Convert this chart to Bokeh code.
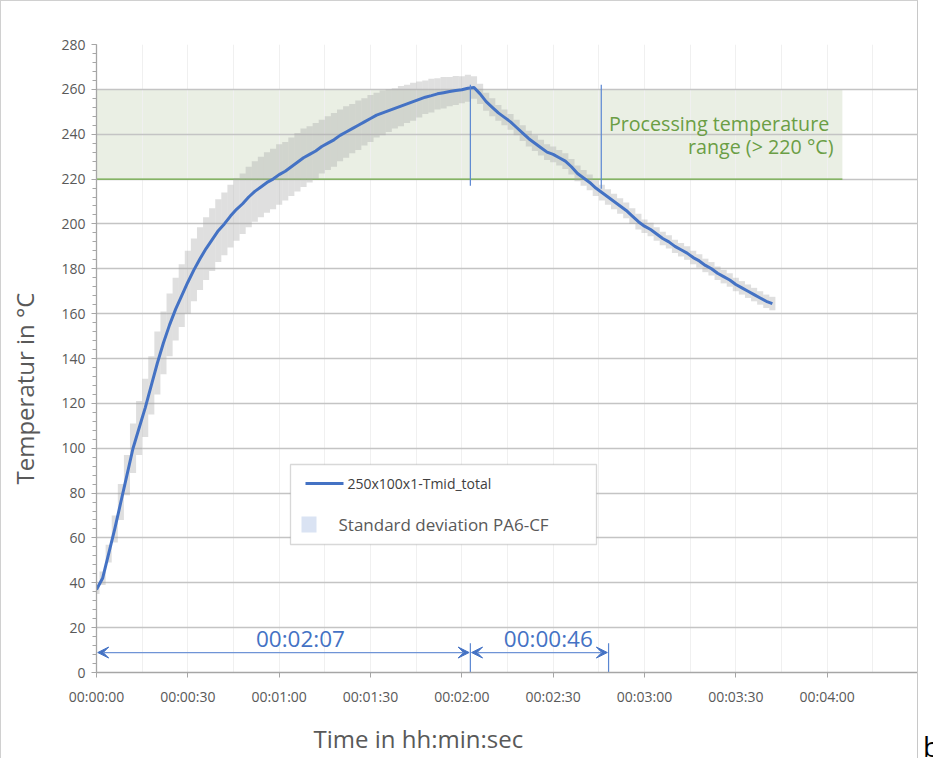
from bokeh.plotting import figure
from bokeh.layouts import row
from bokeh.models import (Range1d, SingleIntervalTicker, FixedTicker, CustomJSTickFormatter,
                          BoxAnnotation, Label, Arrow, VeeHead, Title, Div)
from bokeh.embed import file_html
from bokeh.resources import INLINE

# ---------------- data ----------------
T_SEC = [0, 2, 4, 6, 8, 10, 12, 14, 16, 18, 20, 22, 24, 26, 28, 30, 32, 34, 36, 38,
         40, 42, 44, 46, 48, 50, 52, 54, 56, 58, 60, 62, 64, 66, 68, 70, 72, 74, 76, 78,
         80, 82, 84, 86, 88, 90, 92, 94, 96, 98, 100, 102, 104, 106, 108, 110, 112, 114, 116, 118,
         120, 122, 124, 126, 128, 130, 132, 134, 136, 138, 140, 142, 144, 146, 148, 150, 152, 154, 156, 158,
         160, 162, 164, 166, 168, 170, 172, 174, 176, 178, 180, 182, 184, 186, 188, 190, 192, 194, 196, 198,
         200, 202, 204, 206, 208, 210, 212, 214, 216, 218, 220, 222]

TEMP = [37, 42, 53, 64, 76, 88, 100, 109, 118, 128, 138, 147, 155, 162, 168, 174, 179.5, 184.5, 189, 193,
        197, 200, 203.5, 206.5, 209, 212, 214.5, 216.5, 218.5, 220, 222, 223.5, 225.5, 227.5, 229.5, 231, 232.5, 234.5, 236, 237.5,
        239.5, 241, 242.5, 244, 245.5, 247, 248.5, 249.5, 250.5, 251.5, 252.5, 253.5, 254.5, 255.5, 256.5, 257.2, 258, 258.5, 259, 259.5,
        259.8, 260.5, 260.8, 258, 254.5, 252, 249.5, 247.5, 245.5, 243, 240.5, 238, 236, 234, 232, 231, 229.5, 228, 225.5, 222.5,
        220.5, 218.5, 216, 214, 212, 210, 208, 206, 203.5, 201, 199, 197.5, 195.5, 193.5, 192, 190, 188.5, 187, 185, 183.5,
        181.5, 180, 178, 176.5, 175, 173, 171.5, 170, 168.5, 167, 165.5, 164.5]

STD = [2, 3, 4, 6, 8, 9, 11, 12, 13, 13, 14, 14, 14, 14, 14, 14, 14, 14, 14, 14,
       14, 14, 14, 14, 13.5, 13.5, 13.5, 13.5, 13.5, 13.5, 13.5, 13, 13, 13, 13, 12.5, 12.5, 12, 12, 12,
       11.5, 11.5, 11, 11, 10.5, 10.5, 10, 10, 9.5, 9, 9, 8.5, 8.5, 8, 7.5, 7.5, 7, 7, 6.5, 6.5,
       6, 6, 5, 4.5, 4, 4, 3.5, 3.5, 3.5, 3.5, 3.5, 3.5, 3.5, 3.5, 3.5, 3.5, 3.5, 3.5, 3.5, 3.5,
       3.5, 3.5, 3.5, 3.5, 3.5, 3.5, 3.5, 3.5, 3.5, 3.5, 3, 3, 3, 3, 3, 3, 3, 3, 3, 3,
       3, 3, 3, 3, 3, 3, 3, 3, 3, 3, 3, 3]

X_TICKS = [0, 30, 60, 90, 120, 150, 180, 210, 240, 270]
X_GRID_STEP = 15
Y_TICK_STEP = 20

BAND_LOW, BAND_HIGH, BAND_END = 220, 260, 245          # processing temperature range
PEAK_T, COOL_T, COOL_T_BOTTOM = 122.8, 165.8, 168.2   # marker lines (s)
ARROW_Y = 8.9

LINE_LABEL = "250x100x1-Tmid_total"
STD_LABEL = "Standard deviation PA6-CF"
X_TITLE = "Time in hh:min:sec"
Y_TITLE = "Temperatur in °C"

BLUE = "#4472c4"
GRAY_TXT = "#595959"
GREEN = "#6b9e45"
FONT = "Open Sans"

# ---------------- figure ----------------
p = figure(frame_width=820, frame_height=627,
           min_border_left=95, min_border_right=1, min_border_top=43, min_border_bottom=87,
           x_range=Range1d(0, 270), y_range=Range1d(0, 280),
           output_backend="svg", toolbar_location=None)
p.styles = {"border-left": "1px solid #d0d0d0", "border-top": "1px solid #d0d0d0",
            "border-right": "1px solid #c8c8c8"}
p.outline_line_color = None
p.background_fill_color = "white"
p.border_fill_color = "white"

# axes
p.xaxis.ticker = FixedTicker(ticks=X_TICKS, minor_ticks=[])
p.xaxis.formatter = CustomJSTickFormatter(code="""
    const s = Math.round(tick);
    if (s >= 270) return "";
    const m = Math.floor(s / 60), r = s % 60;
    return "00:" + String(m).padStart(2, "0") + ":" + String(r).padStart(2, "0");
""")
p.yaxis.ticker = SingleIntervalTicker(interval=Y_TICK_STEP, num_minor_ticks=5)
for ax in (p.xaxis[0], p.yaxis[0]):
    ax.axis_line_color = "#a6a6a6"
    ax.axis_line_width = 1.3
    ax.major_tick_line_color = "#a6a6a6"
    ax.major_tick_out = 5
    ax.major_tick_in = 0
    ax.major_label_text_font = FONT
    ax.major_label_text_font_size = "14px"
    ax.major_label_text_color = GRAY_TXT
p.yaxis.minor_tick_line_color = "#a6a6a6"
p.yaxis.minor_tick_out = 4
p.yaxis.minor_tick_in = 0
p.yaxis.major_label_standoff = 6
p.xaxis.major_label_standoff = 9
# blank axis label used only as a spacer between the tick labels and the title
p.yaxis.axis_label = " "
p.yaxis.axis_label_text_font_size = "1px"
p.yaxis.axis_label_standoff = 11

p.ygrid.grid_line_color = "#c4c4c4"
p.ygrid.grid_line_width = 1.5
p.xgrid.ticker = SingleIntervalTicker(interval=X_GRID_STEP, num_minor_ticks=0)
p.xgrid.grid_line_color = "#f0f0f0"
p.xgrid.grid_line_width = 1

# axis titles as side-panel titles (so they can sit off-centre like the reference)
p.add_layout(Title(text=Y_TITLE, align="left", offset=188, standoff=6,
                   text_font=FONT, text_font_size="24px", text_font_style="normal",
                   text_color=GRAY_TXT), "left")
p.add_layout(Title(text=X_TITLE, align="left", offset=217, standoff=22,
                   text_font=FONT, text_font_size="24px", text_font_style="normal",
                   text_color=GRAY_TXT), "below")

# processing temperature band
p.quad(left=[0], right=[BAND_END], bottom=[BAND_LOW], top=[BAND_HIGH],
       fill_color="#eaefe4", line_color=None, level="image")
p.segment(x0=[0], y0=[BAND_LOW], x1=[BAND_END], y1=[BAND_LOW],
          line_color="#70ad47", line_width=1.3)

# standard deviation columns
lo = [t - s for t, s in zip(TEMP, STD)]
hi = [t + s for t, s in zip(TEMP, STD)]
p.vbar(x=T_SEC, width=2, bottom=lo, top=hi, fill_color="#a6a6a6", fill_alpha=0.36, line_color=None)

# mean temperature line
p.line(T_SEC, TEMP, line_color=BLUE, line_width=3, line_join="round")

# marker lines
p.segment(x0=[PEAK_T, COOL_T], y0=[217, 215.7], x1=[PEAK_T, COOL_T], y1=[262, 262],
          line_color="#5a86d2", line_width=1.2)
p.segment(x0=[PEAK_T, COOL_T_BOTTOM], y0=[0, 0], x1=[PEAK_T, COOL_T_BOTTOM], y1=[13, 13],
          line_color="#5a86d2", line_width=1.2)

# duration arrows
for xs, xe in ((0.4, PEAK_T - 0.4), (PEAK_T + 0.4, COOL_T_BOTTOM - 0.4)):
    p.add_layout(Arrow(x_start=xs, y_start=ARROW_Y, x_end=xe, y_end=ARROW_Y,
                       line_color="#6f94d6", line_width=1.2,
                       start=VeeHead(size=11, fill_color=BLUE, line_color=BLUE, line_width=1),
                       end=VeeHead(size=11, fill_color=BLUE, line_color=BLUE, line_width=1)))
p.add_layout(Label(x=67, y=15.2, text="00:02:07", text_align="center", text_baseline="middle",
                   text_font=FONT, text_font_size="22.5px", text_color=BLUE))
p.add_layout(Label(x=148.4, y=15.2, text="00:00:46", text_align="center", text_baseline="middle",
                   text_font=FONT, text_font_size="22.5px", text_color=BLUE))

# processing range text
p.add_layout(Label(x=240.7, y=244.7, text="Processing temperature", text_align="right",
                   text_baseline="middle", text_font=FONT, text_font_size="19.7px", text_color=GREEN))
p.add_layout(Label(x=242.1, y=234.4, text="range (> 220 °C)", text_align="right",
                   text_baseline="middle", text_font=FONT, text_font_size="19.7px", text_color=GREEN))

# legend (drawn in screen units, relative to the frame)
p.add_layout(BoxAnnotation(left=194, right=500, bottom=128, top=208,
                           left_units="screen", right_units="screen",
                           bottom_units="screen", top_units="screen",
                           fill_color="white", fill_alpha=1, line_color="#7f7f7f", line_width=1.3))
p.add_layout(BoxAnnotation(left=209, right=247, bottom=187.5, top=190.5,
                           left_units="screen", right_units="screen",
                           bottom_units="screen", top_units="screen",
                           fill_color=BLUE, fill_alpha=1, line_color=None))
p.add_layout(BoxAnnotation(left=205, right=220, bottom=140, top=156,
                           left_units="screen", right_units="screen",
                           bottom_units="screen", top_units="screen",
                           fill_color="#dae3f3", fill_alpha=1, line_color=None))
p.add_layout(Label(x=251, y=189, x_units="screen", y_units="screen", text=LINE_LABEL,
                   text_align="left", text_baseline="middle", text_font=FONT,
                   text_font_size="14px", text_color="#404040"))
p.add_layout(Label(x=242, y=148, x_units="screen", y_units="screen", text=STD_LABEL,
                   text_align="left", text_baseline="middle", text_font=FONT,
                   text_font_size="17px", text_color=GRAY_TXT))

# subfigure letter at the bottom right (cut by the page edge in the reference)
tag = Div(text="b", width=14, height=757,
          styles={"padding-top": "727px", "padding-left": "0px", "font-family": "Open Sans",
                  "font-size": "28px", "color": "#000000", "line-height": "1",
                  "overflow": "hidden", "box-sizing": "border-box"})

layout = row(p, tag)
open("out.html", "w").write(file_html(layout, INLINE))
